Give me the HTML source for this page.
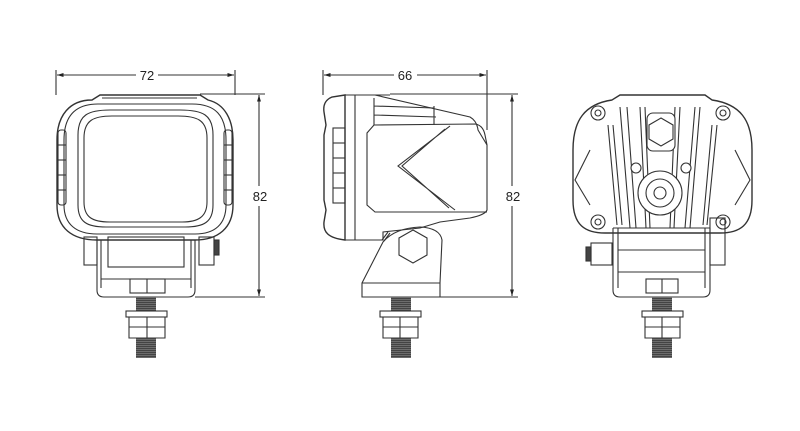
<!DOCTYPE html>
<html><head><meta charset="utf-8"><style>
html,body{margin:0;padding:0;background:#fff;width:800px;height:431px;overflow:hidden}
svg{display:block}
text{font-family:"Liberation Sans",sans-serif;font-size:13px;fill:#222}
</style></head><body>
<svg width="800" height="431" viewBox="0 0 800 431" xmlns="http://www.w3.org/2000/svg">
<defs>
<pattern id="thr" width="4" height="2" patternUnits="userSpaceOnUse"><rect width="4" height="2" fill="#444"/><rect y="1.4" width="4" height="0.6" fill="#888"/></pattern>
<marker id="ar" viewBox="0 0 10 10" refX="10" refY="5" markerWidth="6" markerHeight="6" orient="auto-start-reverse"><path d="M0,2 L10,5 L0,8z" fill="#222"/></marker>
</defs>
<g fill="none" stroke="#333" stroke-width="1.1">
<!-- Dimensions front -->
<line x1="56" y1="70" x2="56" y2="95"/><line x1="235" y1="70" x2="235" y2="95"/>
<line x1="57" y1="75" x2="136" y2="75" marker-start="url(#ar)"/><line x1="158" y1="75" x2="234" y2="75" marker-end="url(#ar)"/>
<line x1="200" y1="94" x2="265" y2="94"/><line x1="195" y1="297" x2="265" y2="297"/>
<line x1="259" y1="95" x2="259" y2="186" marker-start="url(#ar)"/><line x1="259" y1="206" x2="259" y2="296" marker-end="url(#ar)"/>
<!-- Front view body -->
<path d="M100,95 L200,95 L208,100 C225,104 233,120 233,140 L233,205 C233,228 218,240 195,240 L97,240 C72,240 57,228 57,205 L57,140 C57,115 70,100 92,100 Z" stroke-width="1.4"/>
<path d="M102,98 L197,98"/>
<path d="M64,140 C64,115 76,104 98,104 L192,104 C215,104 226,115 226,140 L226,205 C226,224 215,234 195,234 L97,234 C76,234 64,224 64,205 Z"/>
<path d="M78,135 C78,115 88,110 110,110 L180,110 C203,110 213,115 213,135 L213,205 C213,222 204,227 185,227 L106,227 C87,227 78,222 78,205 Z"/>
<path d="M84,138 C84,120 94,116 112,116 L178,116 C197,116 207,120 207,138 L207,202 C207,217 198,222 182,222 L110,222 C92,222 84,217 84,202 Z"/>
<rect x="58" y="130" width="8" height="75" rx="3"/><line x1="58" y1="145" x2="66" y2="145"/><line x1="58" y1="160" x2="66" y2="160"/><line x1="58" y1="175" x2="66" y2="175"/><line x1="58" y1="190" x2="66" y2="190"/>
<rect x="224" y="130" width="8" height="75" rx="3"/><line x1="224" y1="145" x2="232" y2="145"/><line x1="224" y1="160" x2="232" y2="160"/><line x1="224" y1="175" x2="232" y2="175"/><line x1="224" y1="190" x2="232" y2="190"/>
<!-- front bracket -->
<path d="M97,240 L97,290 Q97,297 104,297 L188,297 Q195,297 195,290 L195,240"/>
<line x1="101" y1="240" x2="101" y2="288"/><line x1="191" y1="240" x2="191" y2="288"/>
<rect x="108" y="237" width="76" height="30"/>
<line x1="101" y1="279" x2="191" y2="279"/>
<rect x="130" y="279" width="35" height="14"/><line x1="147" y1="279" x2="147" y2="293"/>
<rect x="84" y="237" width="13" height="28"/>
<rect x="199" y="237" width="15" height="28"/><rect x="214" y="240" width="5" height="15" fill="#444"/>
<rect x="136" y="297" width="20" height="14" fill="url(#thr)" stroke="none"/>
<rect x="126" y="311" width="41" height="6"/>
<path d="M129,317 L165,317 L165,338 L129,338 Z M129,327 L165,327 M147,317 L147,338"/>
<rect x="136" y="338" width="20" height="20" fill="url(#thr)" stroke="none"/>

<!-- Dimensions side -->
<line x1="323" y1="70" x2="323" y2="95"/><line x1="487" y1="70" x2="487" y2="130"/>
<line x1="324" y1="75" x2="394" y2="75" marker-start="url(#ar)"/><line x1="417" y1="75" x2="486" y2="75" marker-end="url(#ar)"/>
<line x1="390" y1="94" x2="518" y2="94"/><line x1="440" y1="297" x2="518" y2="297"/>
<line x1="512" y1="95" x2="512" y2="186" marker-start="url(#ar)"/><line x1="512" y1="206" x2="512" y2="296" marker-end="url(#ar)"/>
<!-- Side body -->
<path d="M345,95 L332,97 C325,100 323,105 324,112 L326,125 L324,135 L324,200 L326,210 L324,222 C323,232 328,238 345,240 Z" stroke-width="1.4"/>
<path d="M345,95 L375,95 L470,117 Q477,121 478,130 L487,145 L487,210 Q485,215 470,218 L440,222 L420,228 L383,232 L383,240 L345,240"/>
<line x1="355" y1="95" x2="355" y2="240"/><line x1="345" y1="95" x2="390" y2="95"/>
<rect x="333" y="128" width="12" height="75"/><line x1="333" y1="143" x2="345" y2="143"/><line x1="333" y1="158" x2="345" y2="158"/><line x1="333" y1="173" x2="345" y2="173"/><line x1="333" y1="188" x2="345" y2="188"/>
<path d="M374,98 L374,125 M374,106 L434,108 M374,115 L436,117 M434,106 L434,125"/>
<path d="M374,125 L367,133 L367,205 L375,212 L487,212"/>
<path d="M374,125 L475,124 Q483,125 485,135 L487,145"/>
<path d="M450,126 L398,166 L455,210 M445,129 L402,166 L449,208"/>
<!-- side mount -->
<path d="M362,297 L362,283 L383,242 Q395,228 420,227 Q440,228 442,240 L440,283 L440,297 Z"/>
<line x1="362" y1="283" x2="440" y2="283"/>
<path d="M388,232 L382,240 M390,233 L384,241"/>
<polygon points="413,230 427,238 427,255 413,263 399,255 399,238"/>
<rect x="391" y="297" width="20" height="14" fill="url(#thr)" stroke="none"/>
<rect x="380" y="311" width="41" height="6"/>
<path d="M383,317 L418,317 L418,338 L383,338 Z M383,327 L418,327 M400,317 L400,338"/>
<rect x="391" y="338" width="20" height="20" fill="url(#thr)" stroke="none"/>

<!-- Back view -->
<path d="M620,95 L705,95 L712,100 C740,104 752,120 752,150 L752,200 C752,225 740,233 720,233 L605,233 C585,233 573,225 573,200 L573,150 C573,120 585,104 612,100 Z" stroke-width="1.4"/>
<path d="M590,150 L575,180 L590,205 M735,150 L750,180 L735,205"/>
<circle cx="598" cy="113" r="7"/><circle cx="598" cy="113" r="3"/>
<circle cx="723" cy="113" r="7"/><circle cx="723" cy="113" r="3"/>
<circle cx="598" cy="222" r="7"/><circle cx="598" cy="222" r="3"/>
<circle cx="723" cy="222" r="7"/><circle cx="723" cy="222" r="3"/>
<path d="M620,107 L630,228 M627,107 L636,228 M640,107 L646,228 M645,107 L650,228 M680,107 L674,228 M675,107 L670,228 M695,107 L685,228 M700,107 L690,228 M608,125 L617,225 M613,125 L622,225 M717,125 L707,225 M712,125 L703,225"/>
<rect x="647" y="113" width="28" height="38" rx="6" fill="#fff"/>
<polygon points="661,118 673,125 673,139 661,146 649,139 649,125" fill="#fff"/>
<circle cx="660" cy="193" r="22" fill="#fff"/><circle cx="660" cy="193" r="14"/><circle cx="660" cy="193" r="6"/>
<circle cx="636" cy="168" r="5" fill="#fff"/><circle cx="686" cy="168" r="5" fill="#fff"/>
<!-- back bracket -->
<path d="M613,228 L613,290 Q613,297 620,297 L703,297 Q710,297 710,290 L710,228"/>
<path d="M618,228 L618,288 M705,228 L705,288"/>
<line x1="613" y1="228" x2="710" y2="228"/><line x1="618" y1="233" x2="705" y2="233"/>
<line x1="618" y1="250" x2="705" y2="250"/><line x1="618" y1="272" x2="705" y2="272"/>
<rect x="646" y="279" width="32" height="14"/><line x1="662" y1="279" x2="662" y2="293"/>
<rect x="591" y="243" width="21" height="22"/><rect x="586" y="247" width="5" height="14" fill="#444"/>
<rect x="710" y="218" width="15" height="47"/>
<rect x="652" y="297" width="20" height="14" fill="url(#thr)" stroke="none"/>
<rect x="642" y="311" width="41" height="6"/>
<path d="M645,317 L680,317 L680,338 L645,338 Z M645,327 L680,327 M662,317 L662,338"/>
<rect x="652" y="338" width="20" height="20" fill="url(#thr)" stroke="none"/>
</g>
<text x="147" y="80" text-anchor="middle">72</text>
<text x="405" y="80" text-anchor="middle">66</text>
<text x="260" y="201" text-anchor="middle">82</text>
<text x="513" y="201" text-anchor="middle">82</text>
</svg>
</body></html>
